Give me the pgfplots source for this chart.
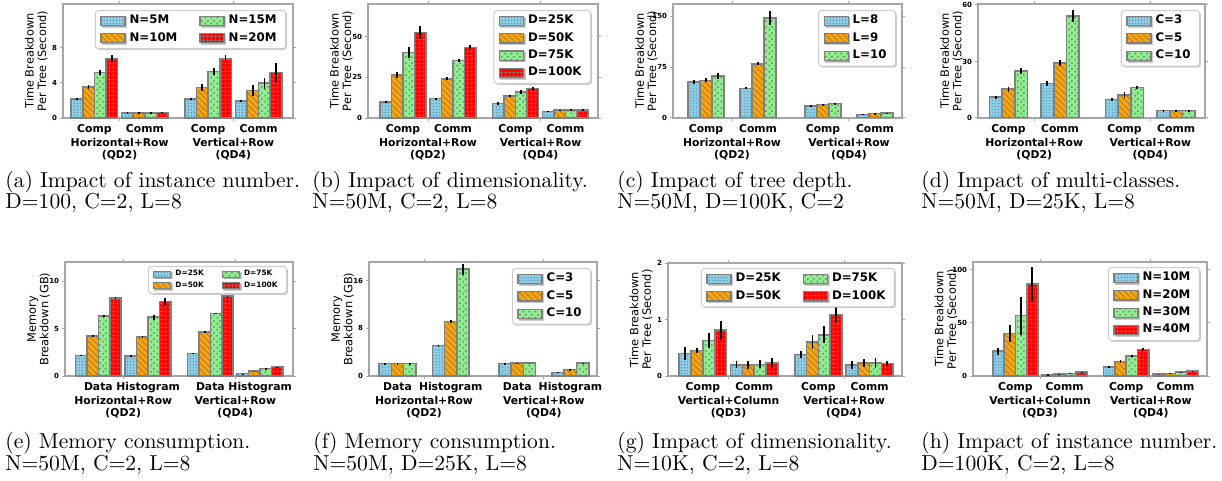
\documentclass[border=0pt]{standalone}
\usepackage{fontspec}
\newfontfamily\dejavu{DejaVu Sans}
\usepackage{pgfplots}
\pgfplotsset{compat=1.18}
\usepackage{pgfplotstable}
\usetikzlibrary{patterns,shadows}

\definecolor{cblue}{HTML}{87CEEB}
\definecolor{corange}{HTML}{FFA500}
\definecolor{cgreen}{HTML}{90EE90}
\definecolor{cred}{HTML}{FF0000}
\definecolor{edgec}{HTML}{808080}

% hatches
\pgfdeclarepatternformonly{finedots}{\pgfpointorigin}{\pgfpoint{1.4pt}{1.4pt}}{\pgfpoint{1.4pt}{1.4pt}}{%
  \pgfpathcircle{\pgfpoint{0.7pt}{0.7pt}}{0.32pt}\pgfusepath{fill}}
\pgfdeclarepatternformonly{circs}{\pgfpointorigin}{\pgfpoint{3pt}{3pt}}{\pgfpoint{3pt}{3pt}}{%
  \pgfpathcircle{\pgfpoint{0.75pt}{0.75pt}}{0.6pt}\pgfpathcircle{\pgfpoint{2.25pt}{2.25pt}}{0.6pt}\pgfusepath{fill}}
\pgfdeclarepatternformonly{finegrid}{\pgfpointorigin}{\pgfpoint{1.8pt}{1.8pt}}{\pgfpoint{1.8pt}{1.8pt}}{%
  \pgfsetlinewidth{0.35pt}%
  \pgfpathmoveto{\pgfpoint{0pt}{0.9pt}}\pgfpathlineto{\pgfpoint{1.8pt}{0.9pt}}%
  \pgfpathmoveto{\pgfpoint{0.9pt}{0pt}}\pgfpathlineto{\pgfpoint{0.9pt}{1.8pt}}%
  \pgfusepath{stroke}}

\newcommand\tlfont{\dejavu\bfseries\fontsize{5.4}{6}\selectfont}
\newcommand\ylfont{\dejavu\fontsize{5.7}{6.2}\selectfont}
\newcommand\ytfont{\dejavu\bfseries\fontsize{3.5}{4}\selectfont}
\newcommand\lgfont{\dejavu\bfseries\fontsize{5.9}{7}\selectfont}
\newcommand\lgsfont{\dejavu\bfseries\fontsize{3.7}{4.5}\selectfont}
\newcommand\capfont{\fontsize{10.8}{13}\selectfont}

\tikzset{eb/.style={line width=0.9pt, black, solid}}

\pgfplotsset{
  limgw/.initial=12pt, limgh/.initial=2.3pt,
  s1/.style={fill=cblue, draw=edgec, line width=0.8pt, postaction={pattern=finedots, pattern color=edgec}},
  s2/.style={fill=corange, draw=edgec, line width=0.8pt, postaction={pattern=north west lines, pattern color=edgec}},
  s3/.style={fill=cgreen, draw=edgec, line width=0.8pt, postaction={pattern=circs, pattern color=edgec}},
  s4/.style={fill=cred, draw=edgec, line width=0.8pt, postaction={pattern=finegrid, pattern color=edgec}},
  sub/.style={
    scale only axis, height=57pt,
    ybar=0pt, bar width=0.23,
    ymin=0,
    axis line style={draw=gray!70, line width=0.6pt},
    tick align=outside,
    tick style={draw=gray!70, line width=0.5pt},
    major tick length=1.6pt,
    xtick={0.5,2.75},
    xticklabel style={font=\tlfont, inner sep=0pt, align=center, yshift=-8.5pt},
    extra x ticks={0,1,2.25,3.25},
    extra x tick style={major tick length=0pt, tick label style={yshift=5.5pt}},
    yticklabel style={font=\ytfont, inner sep=0pt, xshift=-1.2pt},
    /pgf/number format/assume math mode=true,
    ylabel style={align=center, font=\ylfont, at={(axis description cs:-0.065,0.5)}, anchor=south, inner sep=0pt},
    legend cell align=left,
    legend style={font=\lgfont, draw=gray!40, line width=0.5pt, rounded corners=1.5pt, fill=white,
      inner xsep=2.5pt, inner ysep=1.5pt, row sep=1.2pt, anchor=north east,
      nodes={inner ysep=0.8pt},
      drop shadow={shadow xshift=0.7pt, shadow yshift=-0.7pt, opacity=0.4}},
    legend image code/.code={\draw[#1, sharp corners, line width=0.6pt] (0pt,-\pgfkeysvalueof{/pgfplots/limgh}) rectangle (\pgfkeysvalueof{/pgfplots/limgw},\pgfkeysvalueof{/pgfplots/limgh});},
  }
}

\newcommand\barsfour[1]{%
  \addplot[s1, error bars/.cd, y dir=both, y explicit, error mark=none, error bar style={eb}] table[x=x,y=a,y error=ea]{#1};
  \addplot[s2, error bars/.cd, y dir=both, y explicit, error mark=none, error bar style={eb}] table[x=x,y=b,y error=eb]{#1};
  \addplot[s3, error bars/.cd, y dir=both, y explicit, error mark=none, error bar style={eb}] table[x=x,y=c,y error=ec]{#1};
  \addplot[s4, error bars/.cd, y dir=both, y explicit, error mark=none, error bar style={eb}] table[x=x,y=d,y error=ed]{#1};}
\newcommand\barsthree[1]{%
  \addplot[s1, error bars/.cd, y dir=both, y explicit, error mark=none, error bar style={eb}] table[x=x,y=a,y error=ea]{#1};
  \addplot[s2, error bars/.cd, y dir=both, y explicit, error mark=none, error bar style={eb}] table[x=x,y=b,y error=eb]{#1};
  \addplot[s3, error bars/.cd, y dir=both, y explicit, error mark=none, error bar style={eb}] table[x=x,y=c,y error=ec]{#1};}

% (a) instance number
\pgfplotstableread{
x    a    ea   b    eb   c    ec   d    ed
0    2.19 0.10 3.51 0.20 5.20 0.30 6.79 0.35
1    0.60 0.04 0.60 0.04 0.60 0.05 0.65 0.08
2.25 2.19 0.12 3.50 0.40 5.28 0.40 6.72 0.50
3.25 1.92 0.15 3.13 0.60 3.96 0.60 5.20 1.10
}\tA
% (b) dimensionality
\pgfplotstableread{
x    a    ea   b    eb   c    ec   d    ed
0    9.9  0.5  26.3 2.0  40.3 3.5  52.5 4.0
1    11.9 0.3  24.1 0.8  35.2 0.8  43.4 1.3
2.25 8.8  1.0  13.4 0.8  16.0 1.5  18.1 1.2
3.25 4.1  0.2  4.9  0.2  5.1  0.3  5.1  0.3
}\tB
% (c) tree depth
\pgfplotstableread{
x    a    ea   b    eb   c     ec
0    52.9 3.0  55.4 3.0  61.8  4.0
1    43.6 1.5  79.9 2.5  147.5 10.0
2.25 18.1 1.0  19.6 1.2  21.1  1.5
3.25 5.4  0.4  6.4  0.4  7.4   0.4
}\tC
% (d) multi-classes
\pgfplotstableread{
x    a    ea   b    eb   c    ec
0    11.0 0.8  15.3 1.3  24.9 1.7
1    18.3 1.2  29.1 1.5  54.2 3.0
2.25 9.8  1.0  12.3 1.5  16.2 1.0
3.25 3.9  0.2  3.9  0.2  3.9  0.2
}\tD
% (e) memory, dimensionality
\pgfplotstableread{
x    a    ea   b    eb   c    ec   d    ed
0    2.16 0.02 4.24 0.03 6.33 0.04 8.23 0.05
1    2.12 0.07 4.10 0.15 6.18 0.25 7.84 0.35
2.25 2.37 0.02 4.66 0.03 6.60 0.04 8.41 0.05
3.25 0.25 0.01 0.50 0.01 0.78 0.01 0.99 0.01
}\tE
% (f) memory, classes
\pgfplotstableread{
x    a    ea   b    eb   c    ec
0    2.08 0.02 2.08 0.02 2.08 0.02
1    5.10 0.15 9.15 0.30 17.9 0.90
2.25 2.08 0.02 2.13 0.02 2.13 0.02
3.25 0.62 0.02 1.07 0.02 2.19 0.02
}\tF
% (g) dimensionality, vertical
\pgfplotstableread{
x    a     ea   b     eb   c     ec   d    ed
0    0.395 0.11 0.454 0.05 0.63  0.13 0.81 0.17
1    0.200 0.06 0.190 0.07 0.206 0.07 0.23 0.08
2.25 0.378 0.06 0.600 0.12 0.73  0.15 1.09 0.15
3.25 0.195 0.07 0.230 0.07 0.23  0.08 0.22 0.05
}\tG
% (h) instance number, vertical
\pgfplotstableread{
x    a    ea   b    eb   c    ec   d    ed
0    23.3 3.5  40.1 8.0  56.8 18.0 86.4 16.0
1    1.3  0.2  1.9  0.2  2.5  0.2  3.8  0.3
2.25 8.2  0.8  13.6 1.0  18.9 1.2  24.9 1.5
3.25 1.9  0.2  2.5  0.2  3.5  0.2  4.7  0.3
}\tH

\begin{document}
\begin{tikzpicture}
\useasboundingbox (0pt,0pt) rectangle (611pt,-240.5pt);

% ---------- top row ----------
\begin{axis}[sub, at={(31.5pt,-2pt)}, anchor=north west, width=115pt,
  xmin=-0.62, xmax=3.93, ymax=13, ytick={0,4,8},
  xticklabels={{Horizontal+Row\\(QD2)},{Vertical+Row\\(QD4)}},
  extra x tick labels={Comp,Comm,Comp,Comm},
  ylabel={Time Breakdown\\Per Tree (Second)},
  legend columns=2, transpose legend,
  legend style={at={(rel axis cs:0.97,0.947)}, /tikz/every even column/.append style={column sep=9pt}}]
\barsfour{\tA}
\legend{N=5M,N=10M,N=15M,N=20M}
\end{axis}

\begin{axis}[sub, at={(184pt,-2pt)}, anchor=north west, width=115pt,
  xmin=-0.70, xmax=3.90, ymax=70, ytick={0,25,50},
  xticklabels={{Horizontal+Row\\(QD2)},{Vertical+Row\\(QD4)}},
  extra x tick labels={Comp,Comm,Comp,Comm},
  ylabel={Time Breakdown\\Per Tree (Second)},
  legend style={at={(rel axis cs:0.97,0.947)}}]
\barsfour{\tB}
\legend{D=25K,D=50K,D=75K,D=100K}
\end{axis}

\begin{axis}[sub, at={(336.5pt,-2pt)}, anchor=north west, width=114.5pt,
  xmin=-0.635, xmax=3.77, ymax=168, ytick={0,75,150},
  xticklabels={{Horizontal+Row\\(QD2)},{Vertical+Row\\(QD4)}},
  extra x tick labels={Comp,Comm,Comp,Comm},
  ylabel={Time Breakdown\\Per Tree (Second)},
  legend style={at={(rel axis cs:0.974,0.947)}}]
\barsthree{\tC}
\legend{L=8,L=9,L=10}
\end{axis}

\begin{axis}[sub, at={(489pt,-2pt)}, anchor=north west, width=113.5pt,
  xmin=-0.59, xmax=3.81, ymax=60.5, ytick={0,30,60}, bar width=0.245,
  xticklabels={{Horizontal+Row\\(QD2)},{Vertical+Row\\(QD4)}},
  extra x tick labels={Comp,Comm,Comp,Comm},
  ylabel={Time Breakdown\\Per Tree (Second)},
  legend style={at={(rel axis cs:0.978,0.947)}}]
\barsthree{\tD}
\legend{C=3,C=5,C=10}
\end{axis}

% ---------- bottom row ----------
\begin{axis}[sub, at={(32.5pt,-131pt)}, anchor=north west, width=114pt,
  xmin=-0.67, xmax=3.91, ymax=12, ytick={0,5,10},
  xticklabels={{Horizontal+Row\\(QD2)},{Vertical+Row\\(QD4)}},
  extra x tick labels={Data,Histogram,Data,Histogram},
  ylabel={Memory\\Breakdown (GB)},
  limgw=8.5pt, limgh=1.5pt,
  legend columns=2, transpose legend,
  legend style={font=\lgsfont, at={(rel axis cs:0.974,0.965)}, row sep=0.6pt, inner ysep=1.2pt, nodes={inner ysep=0.5pt}, /tikz/every even column/.append style={column sep=7pt}}]
\barsfour{\tE}
\legend{D=25K,D=50K,D=75K,D=100K}
\end{axis}

\begin{axis}[sub, at={(184.5pt,-131pt)}, anchor=north west, width=114pt,
  xmin=-0.535, xmax=3.75, ymax=19.1, ytick={0,8,16},
  xticklabels={{Horizontal+Row\\(QD2)},{Vertical+Row\\(QD4)}},
  extra x tick labels={Data,Histogram,Data,Histogram},
  ylabel={Memory\\Breakdown (GB)},
  legend style={at={(rel axis cs:0.974,0.947)}}]
\barsthree{\tF}
\legend{C=3,C=5,C=10}
\end{axis}

\begin{axis}[sub, at={(334pt,-131.5pt)}, anchor=north west, width=117pt, height=56.5pt,
  xmin=-0.68, xmax=3.88, ymax=2, ytick={0,1,2},
  xticklabels={{Vertical+Column\\(QD3)},{Vertical+Row\\(QD4)}},
  extra x tick labels={Comp,Comm,Comp,Comm},
  ylabel={Time Breakdown\\Per Tree (Second)},
  legend columns=2, transpose legend,
  legend style={at={(rel axis cs:0.97,0.956)}, /tikz/every even column/.append style={column sep=9pt}}]
\barsfour{\tG}
\legend{D=25K,D=50K,D=75K,D=100K}
\end{axis}

\begin{axis}[sub, at={(486.5pt,-131pt)}, anchor=north west, width=117pt,
  xmin=-0.86, xmax=3.89, ymax=107.3, ytick={0,50,100},
  xticklabels={{Vertical+Column\\(QD3)},{Vertical+Row\\(QD4)}},
  extra x tick labels={Comp,Comm,Comp,Comm},
  ylabel={Time Breakdown\\Per Tree (Second)},
  legend style={at={(rel axis cs:0.97,0.956)}}]
\barsfour{\tH}
\legend{N=10M,N=20M,N=30M,N=40M}
\end{axis}

% ---------- captions ----------
\begin{scope}[every node/.style={anchor=base west, inner sep=0pt, font=\capfont}]
\node at (2.5pt,-94pt)   {(a) Impact of instance number.};
\node at (2.5pt,-104.5pt) {D=100, C=2, L=8};
\node at (156pt,-94pt)   {(b) Impact of dimensionality.};
\node at (156pt,-104.5pt) {N=50M, C=2, L=8};
\node at (308.5pt,-94pt) {(c) Impact of tree depth.};
\node at (308.5pt,-104.5pt) {N=50M, D=100K, C=2};
\node at (460.5pt,-94pt) {(d) Impact of multi-classes.};
\node at (460.5pt,-104.5pt) {N=50M, D=25K, L=8};
\node at (2.5pt,-224pt)  {(e) Memory consumption.};
\node at (2.5pt,-235pt)  {N=50M, C=2, L=8};
\node at (156.5pt,-224pt) {(f) Memory consumption.};
\node at (156.5pt,-235pt) {N=50M, D=25K, L=8};
\node at (308.5pt,-224pt) {(g) Impact of dimensionality.};
\node at (308.5pt,-235pt) {N=10K, C=2, L=8};
\node at (460.5pt,-224pt) {(h) Impact of instance number.};
\node at (460.5pt,-235pt) {D=100K, C=2, L=8};
\end{scope}
\end{tikzpicture}
\end{document}
